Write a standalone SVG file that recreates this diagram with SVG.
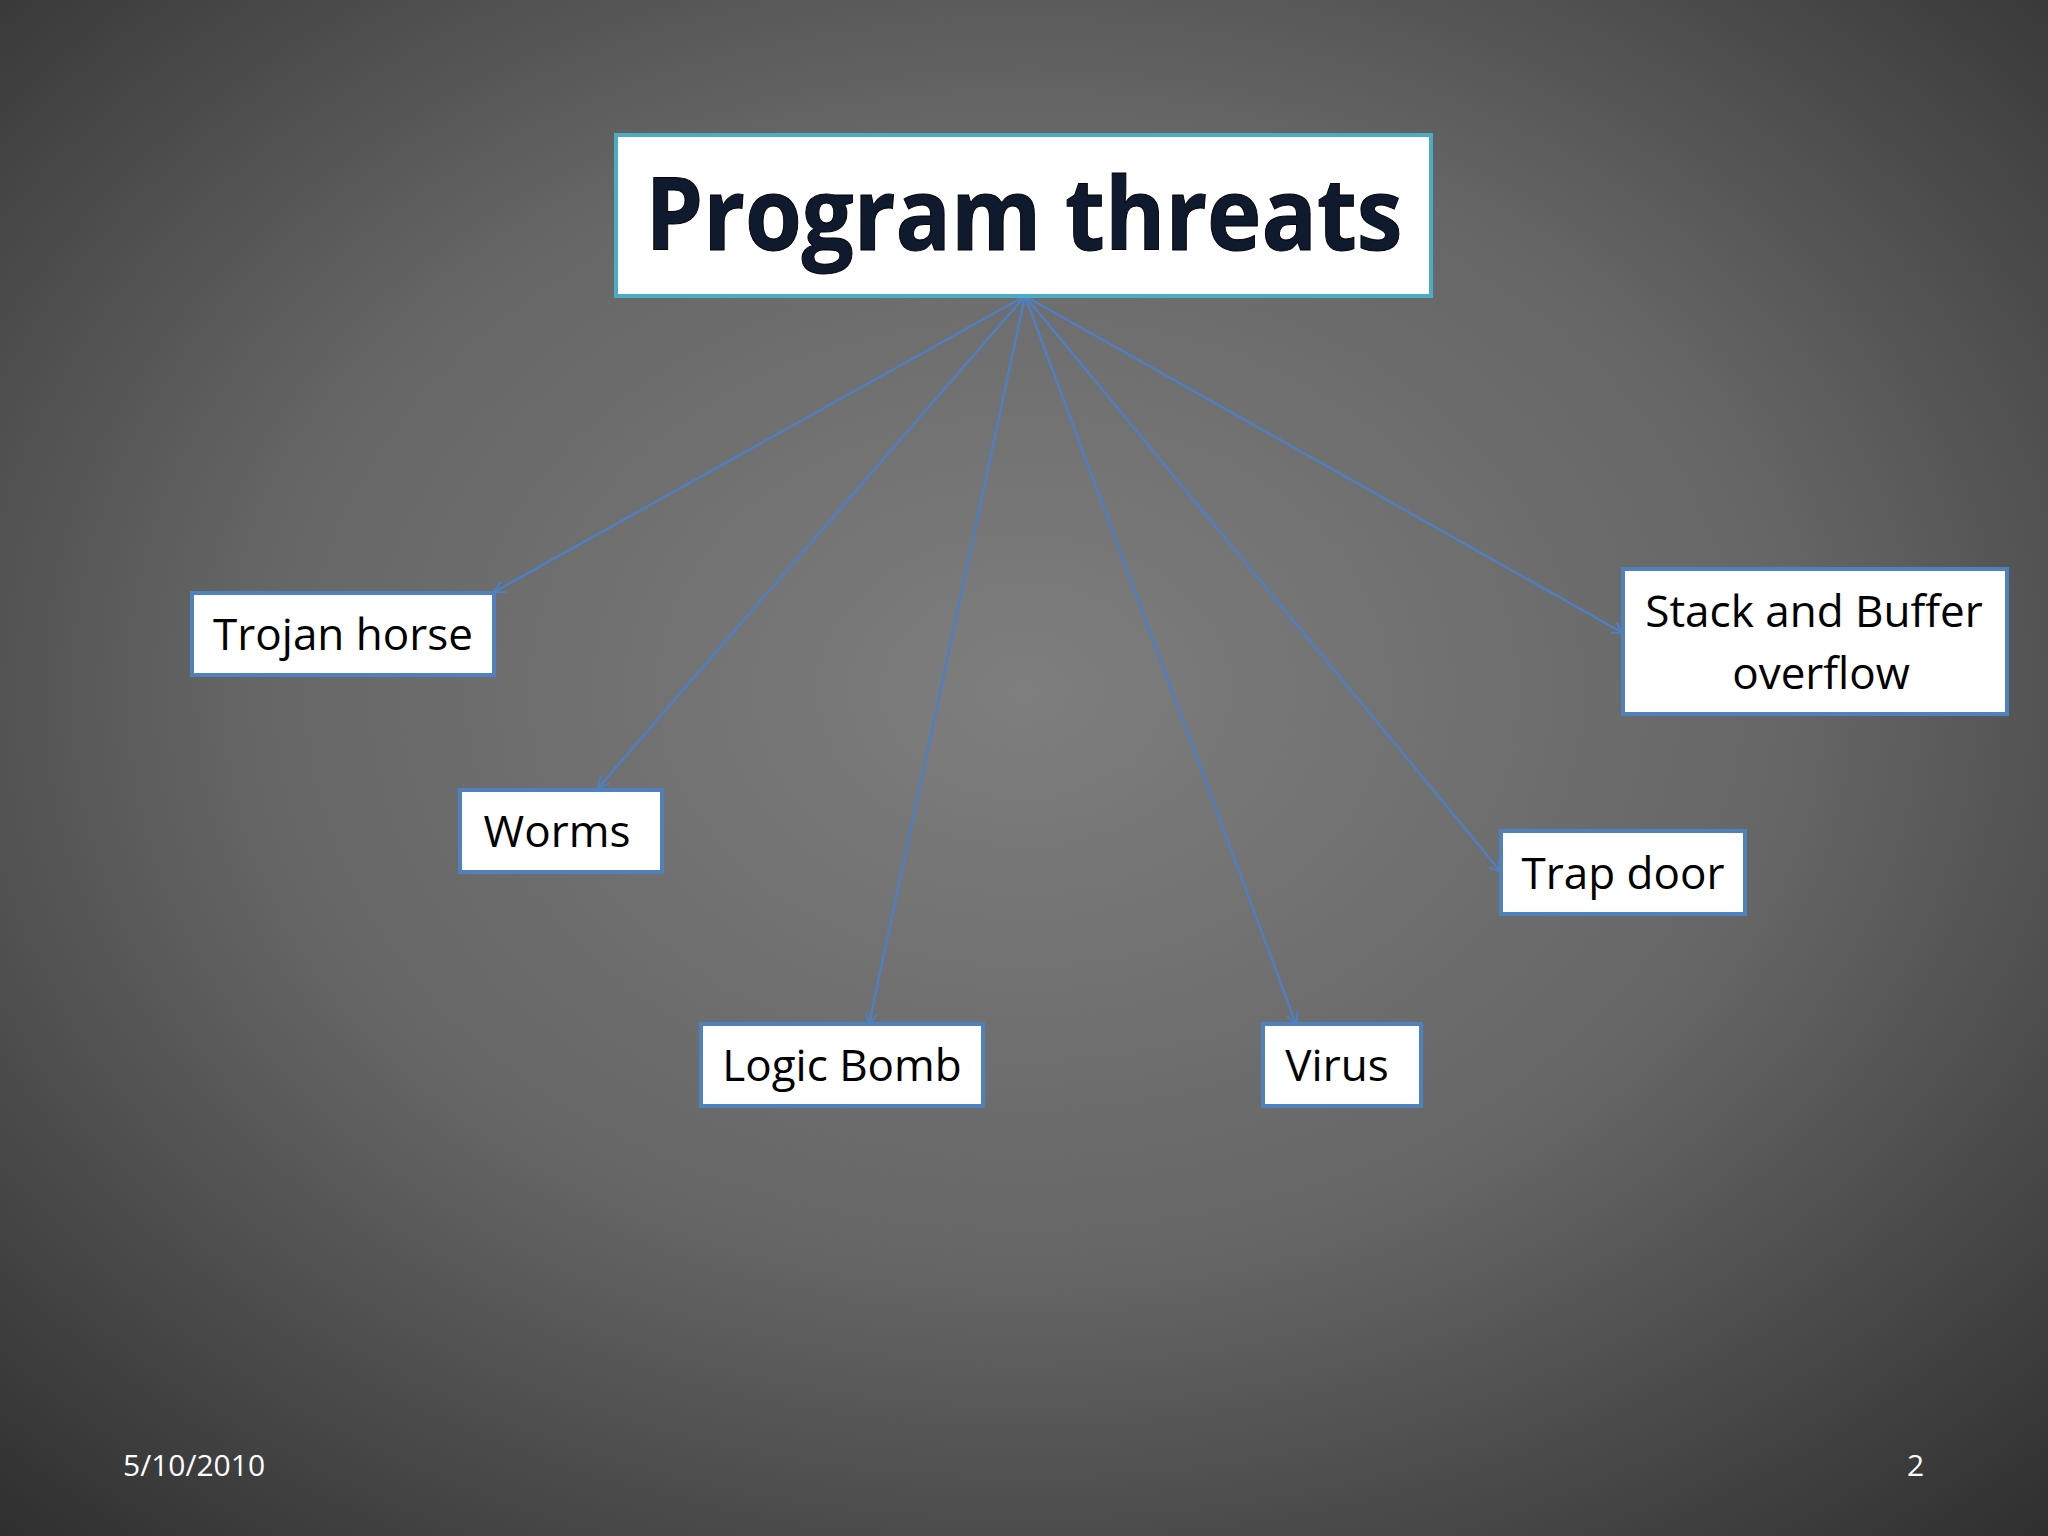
<svg xmlns="http://www.w3.org/2000/svg" width="2048" height="1536" viewBox="0 0 2048 1536">
<defs>
<radialGradient id="bg" cx="0.5" cy="0.45" r="0.75">
<stop offset="0" stop-color="#7e7e7e"/><stop offset="0.5" stop-color="#666"/><stop offset="1" stop-color="#2e2e2e"/>
</radialGradient>
<marker id="ah" markerWidth="14" markerHeight="14" refX="12" refY="7" orient="auto" markerUnits="userSpaceOnUse">
<path d="M1,1 L12,7 L1,13" fill="none" stroke="#4f7fbf" stroke-width="2"/>
</marker>
<style>
.n{fill:#fff;stroke:#4f81bd;stroke-width:4}
.t{font-family:"Open Sans","Liberation Sans",sans-serif;font-size:44px;fill:#000;text-anchor:middle}
.c{stroke:#4f7fbf;stroke-width:2.5;fill:none;marker-end:url(#ah)}
.f{font-family:"Open Sans","Liberation Sans",sans-serif;font-size:30px;fill:#fff}
</style>
</defs>
<rect width="2048" height="1536" fill="url(#bg)"/>
<g id="connectors">
<line class="c" x1="1025" y1="296" x2="494" y2="592"/>
<line class="c" x1="1025" y1="296" x2="598" y2="788"/>
<line class="c" x1="1025" y1="296" x2="869" y2="1024"/>
<line class="c" x1="1025" y1="296" x2="1296" y2="1024"/>
<line class="c" x1="1025" y1="296" x2="1501" y2="872"/>
<line class="c" x1="1025" y1="296" x2="1623" y2="633"/>
</g>
<g id="title"><rect x="616" y="135" width="815" height="161" fill="#fff" stroke="#4bacc6" stroke-width="4"/>
<text x="1024" y="250" font-family="'Open Sans','Liberation Sans',sans-serif" font-weight="bold" font-size="100" fill="#0f1a2e" stroke="#000" stroke-width="1" text-anchor="middle" textLength="757" lengthAdjust="spacingAndGlyphs">Program threats</text></g>
<g id="trojan"><rect class="n" x="192" y="593" width="302" height="82"/><text class="t" x="343" y="650">Trojan horse</text></g>
<g id="worms"><rect class="n" x="460" y="790" width="202" height="82"/><text class="t" x="557" y="847">Worms</text></g>
<g id="logic"><rect class="n" x="701" y="1024" width="282" height="82"/><text class="t" x="842" y="1081">Logic Bomb</text></g>
<g id="virus"><rect class="n" x="1263" y="1024" width="158" height="82"/><text class="t" x="1337" y="1081">Virus</text></g>
<g id="trap"><rect class="n" x="1501" y="831" width="244" height="83"/><text class="t" x="1623" y="889">Trap door</text></g>
<g id="stack"><rect class="n" x="1623" y="569" width="384" height="145"/><text class="t" x="1814" y="627">Stack and Buffer</text><text class="t" x="1821" y="689">overflow</text></g>
<text class="f" x="123" y="1476">5/10/2010</text>
<text class="f" x="1907" y="1476">2</text>
</svg>
